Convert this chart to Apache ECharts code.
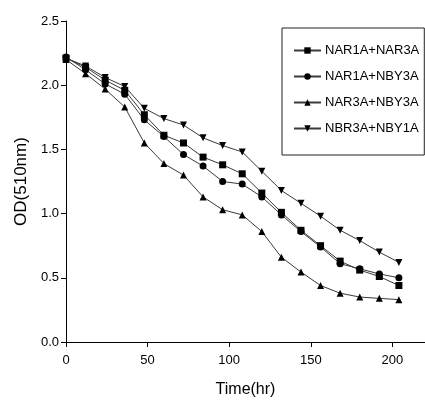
<!DOCTYPE html>
<html>
<head>
<meta charset="utf-8">
<script src="https://cdn.jsdelivr.net/npm/echarts@6/dist/echarts.min.js"></script>
<style>
  html, body { margin: 0; padding: 0; background: #fff; }
  #chart { width: 425px; height: 403px; }
</style>
</head>
<body>
<div id="chart"></div>
<script>
// time points (hr)
const times = [0, 12, 24, 36, 48, 60, 72, 84, 96, 108, 120, 132, 144, 156, 168, 180, 192, 204]
const seriesNames = ['NAR1A+NAR3A', 'NAR1A+NBY3A', 'NAR3A+NBY3A', 'NBR3A+NBY1A']
// OD values
const nar1aNar3a = [2.21, 2.14, 2.04, 1.96, 1.77, 1.61, 1.55, 1.44, 1.38, 1.31, 1.16, 1.01, 0.87, 0.75, 0.63, 0.56, 0.51, 0.44]
const nar1aNby3a = [2.22, 2.12, 2.01, 1.93, 1.73, 1.60, 1.46, 1.37, 1.25, 1.23, 1.13, 0.99, 0.86, 0.74, 0.61, 0.57, 0.53, 0.50]
const nar3aNby3a = [2.20, 2.09, 1.97, 1.83, 1.55, 1.39, 1.30, 1.13, 1.03, 0.99, 0.86, 0.66, 0.545, 0.44, 0.38, 0.35, 0.34, 0.33]
const nbr3aNby1a = [2.21, 2.15, 2.06, 1.99, 1.82, 1.74, 1.69, 1.59, 1.53, 1.48, 1.33, 1.18, 1.08, 0.98, 0.87, 0.79, 0.70, 0.62]
const yTicks = ['0.0', '0.5', '1.0', '1.5', '2.0', '2.5']

const font = "'Liberation Sans', Arial, sans-serif"
const symbols = ['rect', 'circle', 'triangle', 'triangle']
const rotates = [0, 0, 0, 180]
const allValues = [nar1aNar3a, nar1aNby3a, nar3aNby3a, nbr3aNby1a]

const chart = echarts.init(document.getElementById('chart'), null, { renderer: 'canvas' })

const series = seriesNames.map((name, i) => ({
  name: name,
  type: 'line',
  data: times.map((t, k) => [t, allValues[i][k]]),
  symbol: symbols[i],
  symbolRotate: rotates[i],
  symbolSize: 7,
  showAllSymbol: true,
  lineStyle: { color: '#3a3a3a', width: 1 },
  itemStyle: { color: '#000' },
  z: 2
}))

chart.setOption({
  animation: false,
  backgroundColor: '#fff',
  grid: { left: 66, top: 21, width: 359, height: 321, outerBoundsMode: 'none', containLabel: false },
  legend: {
    orient: 'vertical',
    left: 282,
    top: 28,
    padding: [16, 5, 20, 11],
    itemWidth: 27,
    itemHeight: 8,
    itemGap: 13,
    borderColor: '#222',
    borderWidth: 1,
    textStyle: { fontFamily: font, fontSize: 13, color: '#000', padding: [0, 0, 0, -1] },
    data: seriesNames
  },
  xAxis: {
    type: 'value',
    min: 0,
    max: 220,
    interval: 50,
    name: 'Time(hr)',
    nameLocation: 'middle',
    nameGap: 40,
    nameTextStyle: { fontFamily: font, fontSize: 16, color: '#000' },
    axisLine: { lineStyle: { color: '#000', width: 1 } },
    axisTick: { length: 5, lineStyle: { color: '#000' } },
    axisLabel: { fontFamily: font, fontSize: 13, color: '#000', margin: 12, showMaxLabel: false },
    splitLine: { show: false }
  },
  yAxis: {
    type: 'value',
    min: 0,
    max: 2.5,
    interval: 0.5,
    name: 'OD(510nm)',
    nameLocation: 'middle',
    nameGap: 34,
    nameTextStyle: { fontFamily: font, fontSize: 17, color: '#000' },
    axisLine: { show: true, lineStyle: { color: '#000', width: 1 } },
    axisTick: { show: true, length: 5, lineStyle: { color: '#000' } },
    axisLabel: {
      fontFamily: font, fontSize: 13, color: '#000', margin: 7,
      formatter: (v) => yTicks[Math.round(v / 0.5)]
    },
    splitLine: { show: false }
  },
  series: series
})
</script>
</body>
</html>
